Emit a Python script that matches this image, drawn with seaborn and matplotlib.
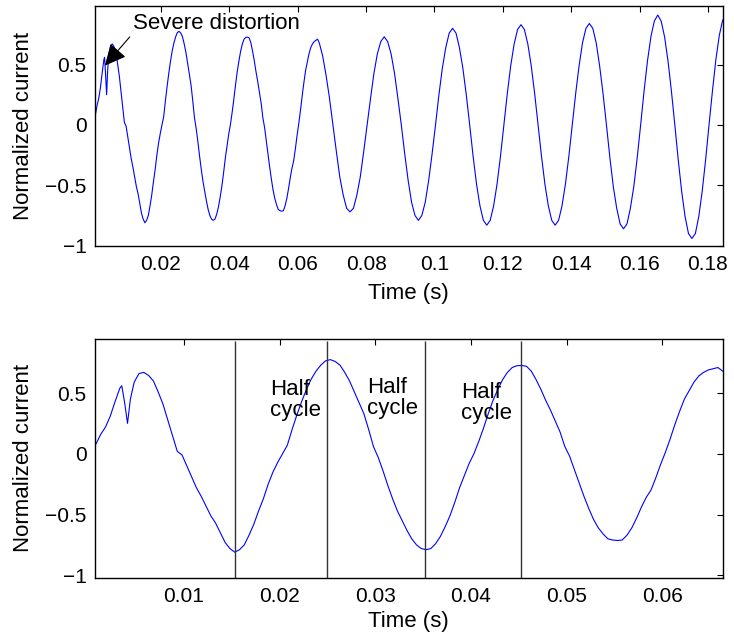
import numpy as np
import pandas as pd
import matplotlib
matplotlib.use("Agg")
import matplotlib.pyplot as plt
import seaborn as sns

# ---------------- data ----------------
# onset with the severe distortion (irregular times, s)
t_onset = [0.0008, 0.0013, 0.0018, 0.0023, 0.0028, 0.0033, 0.0035, 0.0038,
           0.0041, 0.0044, 0.0048, 0.0053, 0.0058, 0.0063]
i_onset = [0.08, 0.16, 0.22, 0.31, 0.43, 0.54, 0.56, 0.42,
           0.25, 0.45, 0.59, 0.66, 0.67, 0.645]

# 0.0068 s ... 0.0663 s, every 0.5 ms
t_mid_start, t_mid_step = 0.0068, 0.0005
i_mid = [
    0.60, 0.51, 0.41, 0.28, 0.15, 0.02, -0.01,
    -0.10, -0.19, -0.28, -0.35, -0.43, -0.51, -0.57, -0.65, -0.73, -0.78, -0.81,
    -0.79, -0.75, -0.67, -0.58, -0.47, -0.37, -0.25, -0.15, -0.07, 0.00,
    0.07, 0.20, 0.32, 0.43, 0.53, 0.615, 0.68, 0.73, 0.765, 0.775,
    0.76, 0.73, 0.67, 0.60, 0.51, 0.42, 0.33, 0.20, 0.06, -0.03,
    -0.14, -0.26, -0.37, -0.47, -0.55, -0.63, -0.70, -0.75, -0.78, -0.79,
    -0.78, -0.74, -0.68, -0.60, -0.51, -0.40, -0.28, -0.18, -0.08, 0.00,
    0.10, 0.21, 0.33, 0.44, 0.53, 0.61, 0.67, 0.71, 0.725, 0.727,
    0.72, 0.68, 0.61, 0.53, 0.44, 0.36, 0.27, 0.18, 0.06, -0.02,
    -0.13, -0.24, -0.35, -0.45, -0.54, -0.61, -0.66, -0.70, -0.71, -0.714,
    -0.71, -0.67, -0.61, -0.53, -0.44, -0.36, -0.30, -0.20, -0.09, 0.01,
    0.12, 0.24, 0.35, 0.45, 0.52, 0.59, 0.64, 0.67, 0.69, 0.70, 0.71, 0.68,
]

# 0.0673 s ... 0.1843 s, every 1 ms
t_late_start, t_late_step = 0.0673, 0.001
i_late = [
    0.57, 0.41, 0.22, 0.00, -0.22, -0.43, -0.58, -0.69, -0.72,
    -0.69, -0.58, -0.43, -0.22, 0.00, 0.22, 0.43, 0.59, 0.69, 0.73,
    0.69, 0.59, 0.43, 0.22, 0.00, -0.24, -0.46, -0.64, -0.75, -0.79,
    -0.75, -0.64, -0.46, -0.24, 0.00, 0.25, 0.47, 0.64, 0.76, 0.80,
    0.76, 0.64, 0.47, 0.25, 0.00, -0.26, -0.49, -0.67, -0.79, -0.83,
    -0.79, -0.67, -0.49, -0.26, 0.00, 0.26, 0.49, 0.67, 0.79, 0.83,
    0.79, 0.67, 0.49, 0.26, 0.00, -0.26, -0.49, -0.67, -0.79, -0.83,
    -0.79, -0.67, -0.49, -0.26, 0.00, 0.26, 0.49, 0.68, 0.80, 0.84,
    0.80, 0.68, 0.49, 0.26, 0.00, -0.27, -0.51, -0.69, -0.82, -0.86,
    -0.82, -0.69, -0.51, -0.27, 0.00, 0.28, 0.53, 0.73, 0.86, 0.91,
    0.86, 0.73, 0.53, 0.28, 0.00, -0.29, -0.55, -0.76, -0.90, -0.94,
    -0.90, -0.76, -0.55, -0.29, 0.00, 0.28, 0.54, 0.74, 0.87,
]

half_cycle_marks = [0.0153, 0.0249, 0.0352, 0.0452]
half_cycle_text_x = [0.0190, 0.0291, 0.0390]
half_cycle_text_y = [0.613, 0.634, 0.593]

top_xticks = [0.02, 0.04, 0.06, 0.08, 0.10, 0.12, 0.14, 0.16, 0.18]
top_xlabels = ["0.02", "0.04", "0.06", "0.08", "0.1", "0.12", "0.14", "0.16", "0.18"]
bot_xticks = [0.01, 0.02, 0.03, 0.04, 0.05, 0.06]
bot_xlabels = ["0.01", "0.02", "0.03", "0.04", "0.05", "0.06"]
yticks = [-1, -0.5, 0, 0.5]
ylabels = ["\u22121", "\u22120.5", "0", "0.5"]

# ---------------- assemble ----------------
t_mid = t_mid_start + t_mid_step * np.arange(len(i_mid))
t_late = t_late_start + t_late_step * np.arange(len(i_late))
df = pd.DataFrame({
    "t": np.concatenate([t_onset, t_mid, t_late]),
    "i": np.concatenate([i_onset, i_mid, i_late]),
})
df_zoom = df[df["t"] <= 0.0664]

# ---------------- style ----------------
sns.set_theme(style="white")
plt.rcParams["font.family"] = ["Liberation Sans", "DejaVu Sans"]
plt.rcParams.update({
    "axes.edgecolor": "black",
    "axes.linewidth": 1.0,
    "xtick.direction": "in",
    "ytick.direction": "in",
    "xtick.top": True,
    "ytick.right": True,
    "xtick.major.size": 4,
    "ytick.major.size": 4,
    "xtick.major.width": 0.8,
    "ytick.major.width": 0.8,
    "xtick.color": "black",
    "ytick.color": "black",
    "xtick.labelsize": 15,
    "ytick.labelsize": 15,
    "axes.labelsize": 16,
    "axes.labelcolor": "black",
    "text.color": "black",
})

fig = plt.figure(figsize=(7.34, 6.42), dpi=100)
ax1 = fig.add_axes([0.1294, 0.6173, 0.8552, 0.3734])
ax2 = fig.add_axes([0.1294, 0.1002, 0.8552, 0.3718])

line_kw = dict(color="#0000ff", linewidth=0.8, estimator=None, sort=False)
sns.lineplot(data=df, x="t", y="i", ax=ax1, **line_kw)
sns.lineplot(data=df_zoom, x="t", y="i", ax=ax2, **line_kw)

ax1.set_xlim(0.0007, 0.1843)
ax1.set_ylim(-1.0, 0.985)
ax2.set_xlim(0.0007, 0.0663)
ax2.set_ylim(-1.02, 0.945)

for ax, xt, xl in ((ax1, top_xticks, top_xlabels), (ax2, bot_xticks, bot_xlabels)):
    ax.set_xticks(xt)
    ax.set_xticklabels(xl)
    ax.set_yticks(yticks)
    ax.set_yticklabels(ylabels)
    ax.tick_params(axis="x", pad=7)
    ax.tick_params(axis="y", pad=6)
    ax.set_ylabel("Normalized current", labelpad=8)
    for s in ax.spines.values():
        s.set_visible(True)
        s.set_color("black")

ax1.set_xlabel("Time (s)", labelpad=6)
ax2.set_xlabel("Time (s)", labelpad=3)

# annotation top
ax1.annotate("Severe distortion", xy=(0.00354, 0.49), xytext=(0.0117, 0.797),
             fontsize=16, ha="left", va="baseline",
             arrowprops=dict(arrowstyle="-|>,head_length=0.95,head_width=0.45",
                             color="black", lw=0.8, shrinkA=0, shrinkB=0,
                             mutation_scale=14, relpos=(0.0, 0.0)))

# half-cycle markers
ax2.vlines(half_cycle_marks, -1.02, 0.93, colors="#333333", linewidth=1.0)
for x, y in zip(half_cycle_text_x, half_cycle_text_y):
    ax2.text(x, y, "Half\ncycle", fontsize=16, ha="left", va="top", linespacing=1.0)

fig.savefig("out.png", dpi=100)
